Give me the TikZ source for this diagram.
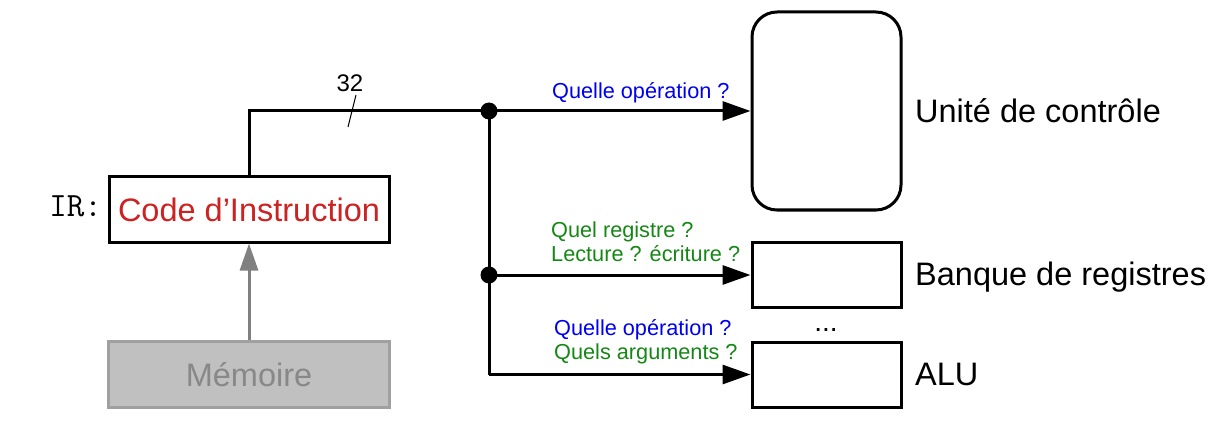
\documentclass[tikz,border=0pt]{standalone}
\usepackage{fontspec}
\setmainfont{Liberation Sans}
\usetikzlibrary{arrows.meta}
\definecolor{redtxt}{RGB}{204,34,34}
\definecolor{bluetxt}{RGB}{0,0,240}
\definecolor{greentxt}{RGB}{20,135,20}
\definecolor{memfill}{RGB}{192,192,192}
\definecolor{memdraw}{RGB}{160,160,160}
\definecolor{memtxt}{RGB}{136,136,136}
\definecolor{grayarrow}{RGB}{128,128,128}
\tikzset{
  bigfont/.style={font=\fontsize{32.5}{38}\selectfont},
  smallfont/.style={font=\fontsize{21.7}{26}\selectfont},
  blockbox/.style={draw=black, line width=3pt, fill=white, inner sep=0pt},
  wire/.style={line width=3pt, black},
  wirearrow/.style={wire, -{Triangle[length=28pt,width=19pt]}},
  junction/.style={circle, fill=black, inner sep=0pt, minimum size=17pt},
  qlabel/.style={smallfont, inner sep=0pt, anchor=base west},
  sidelabel/.style={bigfont, inner sep=0pt, anchor=base west},
}
\begin{document}
\begin{tikzpicture}[x=1pt, y=-1pt]
\useasboundingbox (0,0) rectangle (1227,433);

% IR box
\node[blockbox, minimum width=280pt, minimum height=65pt, bigfont, text=redtxt] (ir) at (249,209.5) {Code d’Instruction};
\node[inner sep=0pt, anchor=base east, font=\ttfamily\fontsize{34}{38}\selectfont] (irlbl) at (102,216) {IR:};

% Memory
\node[draw=memdraw, fill=memfill, line width=3pt, minimum width=281pt, minimum height=66pt, bigfont, text=memtxt, inner sep=0pt] (mem) at (249,374.5) {Mémoire};
\draw[line width=3pt, grayarrow, -{Triangle[length=27pt,width=18pt]}] (mem.north) -- (ir.south);

% Right blocks
\node[blockbox, rounded corners=25pt, minimum width=149pt, minimum height=198pt] (cu) at (826.5,111) {};
\node[blockbox, minimum width=149pt, minimum height=65pt] (bank) at (826.5,275) {};
\node[blockbox, minimum width=149pt, minimum height=65pt] (alu) at (826.5,374.5) {};

\node[sidelabel] (culbl) at (915,123) {Unité de contrôle};
\node[sidelabel] (banklbl) at (915,285) {Banque de registres};
\node[sidelabel] (alulbl) at (915,385) {ALU};
\node[inner sep=0pt, anchor=base, font=\fontsize{28}{30}\selectfont] (dots) at (826,331) {...};

% Junctions
\node[junction] (j1) at (489,111) {};
\node[junction] (j2) at (489,275) {};
\coordinate (jc) at (489,374.5);

% Wires
\draw[wire] (ir.north) |- (j1.center);
\draw[wirearrow] (j1.center) -- (cu.west);
\draw[wire] (j1.center) -- (j2.center);
\draw[wirearrow] (j2.center) -- (bank.west);
\draw[wire] (j2.center) -- (jc);
\draw[wirearrow] (jc) -- (alu.west);

% Bus width tick
\coordinate (t1) at (356,95);
\coordinate (t2) at (348,127);
\draw[line width=1pt] (t1) -- (t2);
\node[inner sep=0pt, anchor=base, font=\fontsize{24}{28}\selectfont] (bw) at (350,92) {32};

% Question labels
\node[qlabel, text=bluetxt] (q1) at (552,99) {Quelle opération ?};
\node[qlabel, text=greentxt] (q2) at (551,237) {Quel registre ?};
\node[qlabel, text=greentxt] (q3) at (551,261) {Lecture ? écriture ?};
\node[qlabel, text=bluetxt] (q4) at (554,335) {Quelle opération ?};
\node[qlabel, text=greentxt] (q5) at (554,359) {Quels arguments ?};
\end{tikzpicture}
\end{document}
